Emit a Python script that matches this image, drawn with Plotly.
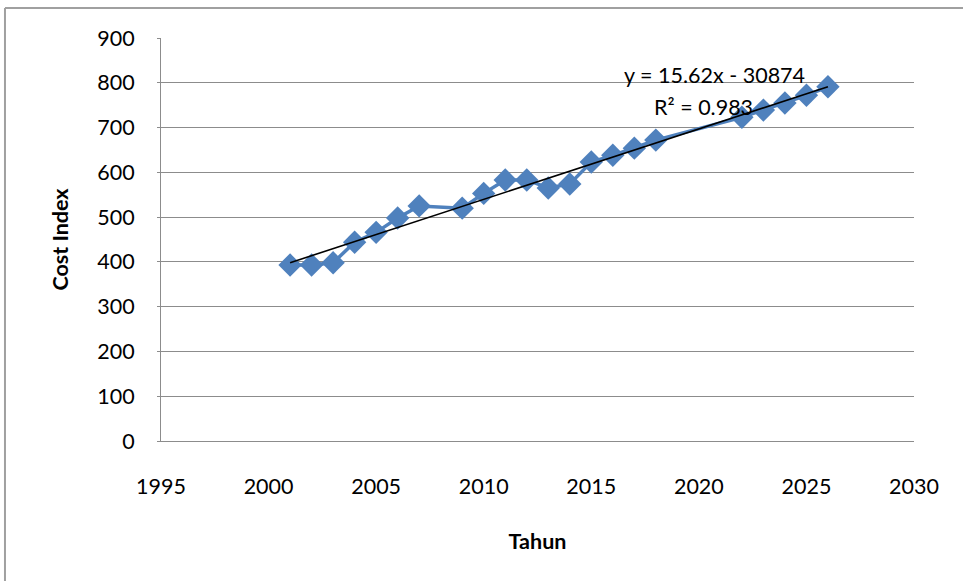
import numpy as np
import plotly.graph_objects as go

# Cost index by year
years = [2001, 2002, 2003, 2004, 2005, 2006, 2007, 2009, 2010, 2011, 2012, 2013,
         2014, 2015, 2016, 2017, 2018, 2022, 2023, 2024, 2025, 2026]
cost_index = [393, 393, 398, 444, 466, 498, 525, 520, 553, 583, 583, 565,
              574, 623, 638, 654, 672, 723, 739, 755, 772, 791]

x_ticks = [1995, 2000, 2005, 2010, 2015, 2020, 2025, 2030]
y_ticks = [0, 100, 200, 300, 400, 500, 600, 700, 800, 900]

eq_label = "y = 15.62x - 30874"
r2_label = "R² = 0.983"

# Linear trendline fitted to the series
slope, intercept = np.polyfit(years, cost_index, 1)
trend_x = [years[0], years[-1]]
trend_y = [slope * v + intercept for v in trend_x]

FONT = "Lato, Liberation Sans, sans-serif"
FS = 21.5
BLUE = "#4F81BD"
GRID = "#8C8C8C"

fig = go.Figure()
fig.add_trace(go.Scatter(
    x=years, y=cost_index, mode="lines+markers",
    line=dict(color=BLUE, width=3.5),
    marker=dict(symbol="diamond", size=18, color=BLUE),
    showlegend=False, hoverinfo="x+y",
))
fig.add_trace(go.Scatter(
    x=trend_x, y=trend_y, mode="lines",
    line=dict(color="black", width=1.6),
    showlegend=False, hoverinfo="skip",
))

fig.update_layout(
    width=963, height=581,
    margin=dict(l=161, r=49, t=38, b=140),
    paper_bgcolor="white", plot_bgcolor="white",
    font=dict(family=FONT, size=FS, color="black"),
    xaxis=dict(
        range=[1995, 2030], tickvals=x_ticks, ticktext=[str(v) for v in x_ticks],
        showgrid=False, zeroline=False, showline=True, linecolor=GRID, linewidth=1,
        ticks="", ticklabelstandoff=26,
        title=dict(text="<b>Tahun</b>", font=dict(size=FS), standoff=36),
    ),
    yaxis=dict(
        range=[0, 900], tickvals=y_ticks, ticktext=[str(v) for v in y_ticks],
        showgrid=True, gridcolor=GRID, gridwidth=1, zeroline=False,
        showline=True, linecolor=GRID, linewidth=1,
        ticks="outside", ticklen=3, tickcolor=GRID, ticklabelstandoff=18,
        title=dict(text="<b>Cost Index</b>", font=dict(size=FS), standoff=22),
    ),
    annotations=[
        dict(x=2020.75, y=818, xref="x", yref="y", text=eq_label, showarrow=False,
             font=dict(size=FS), xanchor="center", yanchor="middle"),
        dict(x=2020.2, y=746, xref="x", yref="y", text=r2_label, showarrow=False,
             font=dict(size=FS), xanchor="center", yanchor="middle"),
    ],
    shapes=[
        # outer chart-area frame (left and top edges)
        dict(type="line", xref="paper", yref="paper", x0=-0.2072, x1=-0.2072,
             y0=1.0744, y1=-0.36, line=dict(color="#A0A0A0", width=2)),
        dict(type="line", xref="paper", yref="paper", x0=-0.2072, x1=1.08,
             y0=1.0744, y1=1.0744, line=dict(color="#A0A0A0", width=2)),
    ],
)

fig.write_html("out.html")
